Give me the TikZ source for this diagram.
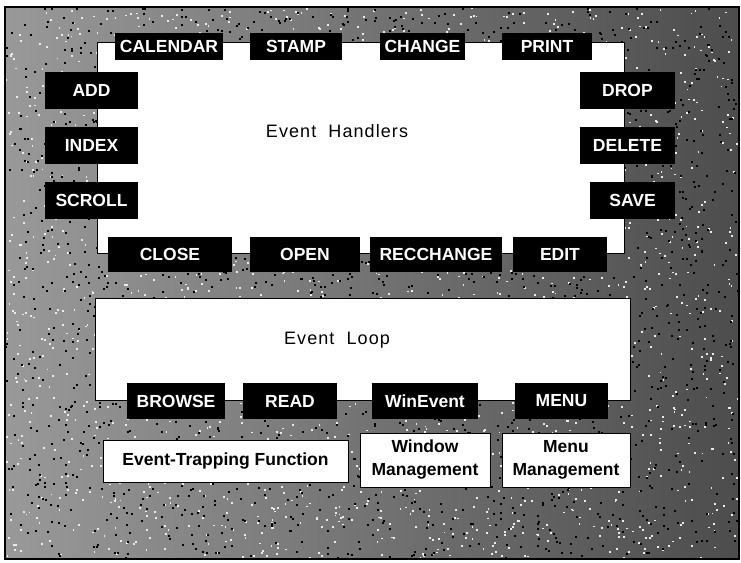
\documentclass[tikz,border=0pt]{standalone}
\usepackage{fontspec}
\setmainfont{Liberation Sans}
\newfontfamily\spacedfont[LetterSpace=6,WordSpace=2]{Liberation Sans}
\begin{document}
\begin{tikzpicture}[x=1pt,y=-1pt,
  tab/.style={fill=black, text=white, inner sep=0pt, font=\bfseries\fontsize{17.5}{17.5}\selectfont},
  panel/.style={fill=white, draw=black, line width=0.6pt},
  label/.style={font=\spacedfont\fontsize{18}{18}\selectfont, inner sep=0pt},
  infobox/.style={fill=white, draw=black, line width=0.8pt, inner sep=0pt, align=center,
    font=\bfseries\fontsize{17.5}{23}\selectfont}]
\useasboundingbox (0,0) rectangle (741,562);
\fill[white] (0,0) rectangle (741,562);
\shade[left color=black!40, right color=black!70] (5,7) rectangle (739,559);
% speckled texture
\pgfmathsetseed{7}
\begin{scope}
\clip (5,7) rectangle (739,559);
\foreach \i in {1,...,2200} {
  \pgfmathsetmacro{\px}{5+734*rnd}
  \pgfmathsetmacro{\py}{7+552*rnd}
  \fill[white!85!gray] (\px,\py) rectangle ++(1.8,1.8);
}
\foreach \i in {1,...,2200} {
  \pgfmathsetmacro{\px}{5+734*rnd}
  \pgfmathsetmacro{\py}{7+552*rnd}
  \fill[black] (\px,\py) rectangle ++(2,2);
}
\end{scope}
\draw[line width=1.5pt] (5,7) rectangle (739,559);

% Event Handlers panel
\draw[panel] (97,42) rectangle (624,253);
\node[label] (eh) at (337,131) {Event Handlers};

% top tabs
\node[tab, minimum width=108pt, minimum height=27pt] (calendar) at (169,46.5) {CALENDAR};
\node[tab, minimum width=92pt, minimum height=27pt] (stamp) at (296,46.5) {STAMP};
\node[tab, minimum width=85pt, minimum height=27pt] (change) at (422.5,46.5) {CHANGE};
\node[tab, minimum width=90pt, minimum height=27pt] (print) at (547,46.5) {PRINT};
% left tabs
\node[tab, minimum width=93pt, minimum height=37pt] (add) at (91.5,90.5) {ADD};
\node[tab, minimum width=93pt, minimum height=37pt] (index) at (91.5,145.5) {INDEX};
\node[tab, minimum width=93pt, minimum height=37pt] (scroll) at (91.5,200.5) {SCROLL};
% right tabs
\node[tab, minimum width=95pt, minimum height=37pt] (drop) at (627.5,90) {DROP};
\node[tab, minimum width=95pt, minimum height=37pt] (delete) at (627.5,145) {DELETE};
\node[tab, minimum width=85pt, minimum height=37pt] (save) at (632.5,200) {SAVE};
% bottom tabs
\node[tab, minimum width=124pt, minimum height=35pt] (close) at (170,254.5) {CLOSE};
\node[tab, minimum width=110pt, minimum height=35pt] (open) at (305,254.5) {OPEN};
\node[tab, minimum width=132pt, minimum height=35pt] (recchange) at (436,254.5) {RECCHANGE};
\node[tab, minimum width=94pt, minimum height=35pt] (edit) at (560,254.5) {EDIT};

% Event Loop panel
\draw[panel] (95,298) rectangle (630,400);
\node[label] (el) at (337,340) {Event Loop};
\node[tab, minimum width=98pt, minimum height=36pt] (browse) at (176,401) {BROWSE};
\node[tab, minimum width=94pt, minimum height=36pt] (read) at (290,401) {READ};
\node[tab, minimum width=106pt, minimum height=36pt] (winevent) at (425,401) {WinEvent};
\node[tab, minimum width=93pt, minimum height=36pt] (menu) at (561.5,401) {MENU};

% lower boxes
\node[infobox, minimum width=245pt, minimum height=42pt] (etf) at (225.5,461) {Event-Trapping Function};
\node[infobox, minimum width=130pt, minimum height=54pt] (wm) at (425,460) {Window\\Management};
\node[infobox, minimum width=128pt, minimum height=54pt] (mm) at (566,460) {Menu\\Management};
\end{tikzpicture}
\end{document}
